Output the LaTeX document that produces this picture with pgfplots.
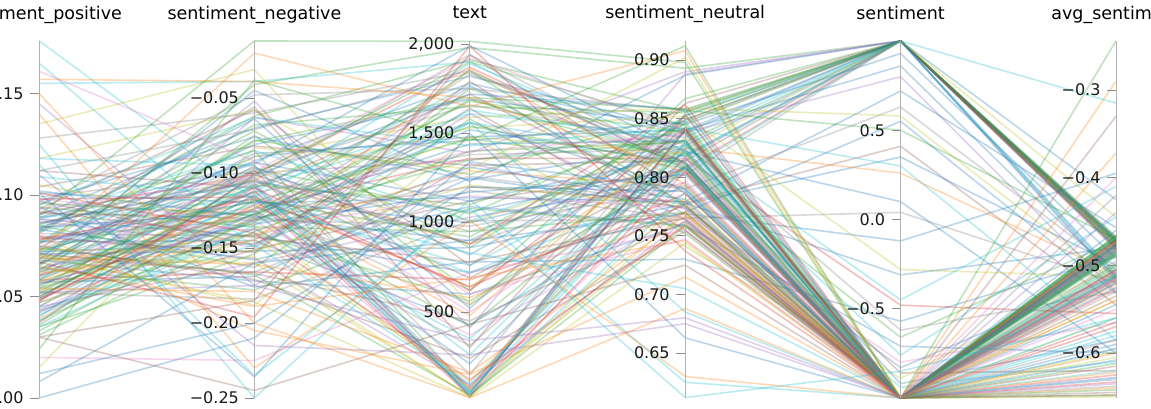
\documentclass[border=0pt]{standalone}
\usepackage{pgfplots}
\usepackage{pgfplotstable}
\pgfplotsset{compat=1.18}
\usepackage{fontspec}
\setmainfont{DejaVu Sans}

\definecolor{c0}{HTML}{1F77B4}
\definecolor{c1}{HTML}{FF7F0E}
\definecolor{c2}{HTML}{2CA02C}
\definecolor{c3}{HTML}{D62728}
\definecolor{c4}{HTML}{9467BD}
\definecolor{c5}{HTML}{8C564B}
\definecolor{c6}{HTML}{E377C2}
\definecolor{c7}{HTML}{7F7F7F}
\definecolor{c8}{HTML}{BCBD22}
\definecolor{c9}{HTML}{17BECF}

% columns: sentiment_positive, sentiment_negative, text, sentiment_neutral, sentiment, avg_sentiment, colour index
\pgfplotstableread{
pos neg txt neu sen avg col
0.082 -0.062 1910 0.856 1 -0.468 2
0.071 -0.089 1480 0.840 1 -0.471 0
0.095 -0.048 1750 0.857 1 -0.474 7
0.058 -0.075 620 0.867 1 -0.477 2
0.104 -0.082 1320 0.814 1 -0.480 5
0.066 -0.041 1980 0.893 1 -0.472 2
0.049 -0.105 880 0.846 1 -0.476 8
0.088 -0.093 1120 0.819 1 -0.470 0
0.077 -0.068 1650 0.855 1 -0.479 2
0.060 -0.052 410 0.888 1 -0.473 4
0.112 -0.071 1840 0.817 1 -0.482 7
0.054 -0.097 1050 0.849 1 -0.469 2
0.093 -0.058 760 0.849 1 -0.475 5
0.072 -0.110 1560 0.818 1 -0.478 9
0.068 -0.045 1230 0.887 1 -0.471 0
0.085 -0.085 55 0.830 1 -0.474 2
0.047 -0.063 1390 0.890 1 -0.481 4
0.099 -0.099 950 0.802 1 -0.467 7
0.063 -0.079 1700 0.858 1 -0.476 2
0.081 -0.056 300 0.863 1 -0.473 5
0.091 -0.101 1870 0.808 1 -0.479 3
0.076 -0.072 860 0.852 1 -0.470 2
0.070 -0.092 1780 0.838 1 -0.510 0
0.097 -0.076 1240 0.827 1 -0.515 0
0.058 -0.108 1610 0.834 1 -0.512 9
0.083 -0.064 520 0.853 1 -0.518 0
0.155 -0.039 1900 0.806 1 -0.315 9
0.066 -0.087 1460 0.847 1 -0.425 0
0.118 -0.058 1000 0.824 1 -0.445 8
0.090 -0.070 1820 0.840 0.86 -0.513 0
0.074 -0.081 1690 0.845 0.93 -0.492 0
0.062 -0.100 1350 0.838 0.80 -0.530 4
0.101 -0.120 1140 0.779 0.72 -0.457 0
0.079 -0.131 980 0.790 0.63 -0.505 7
0.052 -0.089 1590 0.859 0.58 -0.520 8
0.088 -0.142 720 0.770 0.55 -0.532 0
0.065 -0.078 1270 0.857 0.50 -0.470 2
0.112 -0.110 1720 0.778 0.41 -0.545 5
0.071 -0.152 860 0.777 0.35 -0.500 0
0.095 -0.063 1430 0.842 0.30 -0.585 9
0.058 -0.117 640 0.825 0.26 -0.510 1
0.084 -0.094 1990 0.822 0.10 -0.600 0
0.069 -0.166 1180 0.765 0.04 -0.520 7
0.102 -0.129 900 0.769 -0.12 -0.395 0
0.045 -0.103 1530 0.852 -0.28 -0.513 8
0.077 -0.145 430 0.778 -0.31 -0.480 0
0.089 -0.085 1010 0.826 -0.45 -0.410 9
0.060 -0.124 1360 0.816 -0.48 -0.555 3
0.094 -0.176 780 0.730 -0.57 -0.490 0
0.073 -0.099 1660 0.828 -0.62 -0.530 7
0.052 -0.140 560 0.808 -0.66 -0.472 2
0.083 -0.158 1090 0.759 -0.71 -0.600 0
0.066 -0.113 1890 0.821 -0.76 -0.445 9
0.098 -0.132 370 0.770 -0.80 -0.565 6
0.057 -0.169 1250 0.774 -0.83 -0.512 0
0.086 -0.105 690 0.809 -0.86 -0.620 5
0.071 -0.188 1480 0.741 -0.89 -0.500 8
0.049 -0.127 210 0.824 -0.92 -0.585 0
0.109 -0.116 1770 0.775 -0.94 -0.610 9
0.062 -0.128 1540 0.810 -1 -0.466 2
0.045 -0.115 45 0.840 -1 -0.470 0
0.081 -0.142 1260 0.777 -1 -0.474 7
0.037 -0.101 880 0.862 -1 -0.478 3
0.070 -0.160 30 0.770 -1 -0.482 8
0.054 -0.133 1690 0.813 -1 -0.486 2
0.089 -0.118 720 0.793 -1 -0.468 9
0.043 -0.151 1120 0.806 -1 -0.472 5
0.076 -0.107 80 0.817 -1 -0.476 4
0.031 -0.139 1400 0.830 -1 -0.480 2
0.068 -0.172 600 0.760 -1 -0.484 0
0.057 -0.124 1830 0.819 -1 -0.488 7
0.094 -0.136 950 0.770 -1 -0.467 2
0.049 -0.098 25 0.853 -1 -0.471 5
0.072 -0.147 1310 0.781 -1 -0.475 0
0.039 -0.121 480 0.840 -1 -0.479 1
0.085 -0.163 1580 0.752 -1 -0.483 2
0.060 -0.112 260 0.828 -1 -0.487 9
0.052 -0.184 1010 0.764 -1 -0.469 7
0.078 -0.125 60 0.797 -1 -0.473 6
0.035 -0.154 1750 0.811 -1 -0.477 2
0.066 -0.096 820 0.838 -1 -0.481 0
0.091 -0.130 1200 0.779 -1 -0.485 5
0.047 -0.144 110 0.809 -1 -0.490 8
0.073 -0.119 1470 0.808 -1 -0.466 2
0.058 -0.166 680 0.776 -1 -0.472 3
0.083 -0.105 1940 0.812 -1 -0.478 7
0.041 -0.137 350 0.822 -1 -0.484 9
0.064 -0.178 1080 0.758 -1 -0.470 2
0.050 -0.109 40 0.841 -1 -0.476 0
0.097 -0.148 1640 0.755 -1 -0.482 5
0.069 -0.122 540 0.809 -1 -0.488 7
0.038 -0.131 1350 0.831 -1 -0.474 2
0.080 -0.157 90 0.763 -1 -0.480 4
0.055 -0.101 1900 0.844 -1 -0.486 2
0.064 -0.134 1170 0.802 -1 -0.513 0
0.048 -0.112 70 0.840 -1 -0.505 3
0.087 -0.149 1610 0.764 -1 -0.520 4
0.059 -0.120 760 0.821 -1 -0.511 9
0.074 -0.168 35 0.758 -1 -0.498 2
0.042 -0.127 1440 0.831 -1 -0.525 0
0.093 -0.103 500 0.804 -1 -0.516 6
0.067 -0.141 1290 0.792 -1 -0.508 1
0.051 -0.095 150 0.854 -1 -0.530 7
0.079 -0.153 1790 0.768 -1 -0.514 5
0.036 -0.118 920 0.846 -1 -0.502 2
0.070 -0.186 20 0.744 -1 -0.518 8
0.056 -0.132 1520 0.812 -1 -0.509 0
0.098 -0.116 640 0.786 -1 -0.527 3
0.045 -0.160 1030 0.795 -1 -0.515 4
0.082 -0.108 55 0.810 -1 -0.500 9
0.061 -0.145 1860 0.794 -1 -0.522 1
0.053 -0.125 420 0.822 -1 -0.512 2
0.088 -0.138 1150 0.774 -1 -0.535 6
0.040 -0.102 1720 0.858 -1 -0.506 0
0.075 -0.171 240 0.754 -1 -0.517 5
0.063 -0.113 1380 0.824 -1 -0.495 7
0.105 -0.135 70 0.760 -1 -0.540 8
0.057 -0.123 1480 0.820 -1 -0.560 8
0.044 -0.148 95 0.808 -1 -0.575 9
0.086 -0.106 1060 0.808 -1 -0.590 0
0.069 -0.161 580 0.770 -1 -0.600 1
0.033 -0.129 1680 0.838 -1 -0.612 2
0.078 -0.117 30 0.805 -1 -0.625 3
0.052 -0.175 1330 0.773 -1 -0.635 4
0.092 -0.143 780 0.765 -1 -0.645 5
0.060 -0.099 1920 0.841 -1 -0.550 6
0.047 -0.137 310 0.816 -1 -0.585 7
0.073 -0.152 1210 0.775 -1 -0.605 8
0.038 -0.114 45 0.848 -1 -0.620 9
0.084 -0.126 1560 0.790 -1 -0.630 0
0.065 -0.189 690 0.746 -1 -0.640 1
0.050 -0.108 1100 0.842 -1 -0.648 2
0.101 -0.140 120 0.759 -1 -0.565 3
0.056 -0.131 1760 0.813 -1 -0.595 4
0.071 -0.167 450 0.762 -1 -0.615 5
0.043 -0.121 1400 0.836 -1 -0.628 6
0.089 -0.104 880 0.807 -1 -0.638 7
0.062 -0.156 25 0.782 -1 -0.650 8
0.035 -0.135 1630 0.830 -1 -0.580 9
0.077 -0.119 1000 0.804 -1 -0.608 0
0.054 -0.179 160 0.767 -1 -0.622 1
0.096 -0.128 1850 0.776 -1 -0.642 2
0.048 -0.110 620 0.842 -1 -0.633 3
0.000 -0.210 1340 0.790 -1 -0.520 0
0.176 -0.118 830 0.705 -1 -0.490 9
0.165 -0.150 1560 0.685 -1 -0.560 9
0.157 -0.039 1700 0.804 -1 -0.505 1
0.125 -0.250 1130 0.625 -1 -0.595 9
0.090 -0.012 2015 0.898 -1 -0.244 2
0.072 -0.020 1650 0.908 -1 -0.290 1
0.030 -0.245 430 0.725 -1 -0.330 5
0.140 -0.230 1010 0.630 -1 -0.372 1
0.020 -0.225 720 0.755 -1 -0.400 6
0.128 -0.060 1850 0.812 -1 -0.420 7
0.110 -0.215 260 0.675 -1 -0.440 4
0.012 -0.200 1200 0.788 -1 -0.460 0
0.135 -0.031 540 0.834 -1 -0.535 8
0.024 -0.038 1460 0.912 -1 -0.488 2
0.067 -0.196 1990 0.737 -1 -0.570 3
0.118 -0.095 30 0.787 -1 -0.628 9
0.008 -0.160 900 0.832 -1 -0.545 0
0.145 -0.175 340 0.680 -1 -0.505 4
0.080 -0.205 150 0.715 -1 -0.473 1
0.015 -0.083 1300 0.902 -1 -0.598 8
0.030 -0.185 1940 0.786 -1 -0.648 5
0.161 -0.092 600 0.747 -1 -0.515 6
0.101 -0.236 1500 0.663 -1 -0.478 0
0.115 -0.235 1080 0.612 -0.85 -0.560 9
0.150 -0.200 20 0.688 -1 -0.540 1
}\data

\pgfplotsset{
  dimaxis/.style={
    scale only axis, width=20pt, height=357pt, anchor=south west,
    xmin=0, xmax=1, xtick=\empty,
    axis x line=none, axis y line*=left,
    y axis line style={draw=black!30, line width=0.8pt},
    ytick style={draw=black!45, line width=0.8pt},
    tick align=outside, major tick length=9pt, minor tick num=0,
    yticklabel style={font=\fontsize{16}{16}\selectfont, text=black!90, xshift=-3pt},
    title style={at={(0,1)}, anchor=base, yshift=16pt, font=\fontsize{17.5}{17.5}\selectfont},
    clip=false,
  },
}

\begin{document}
\begin{tikzpicture}
\pgfplotstablegetrowsof{\data}
\pgfmathtruncatemacro\N{\pgfplotsretval-1}
\begin{axis}[scale only axis, width=1077pt, height=357pt, at={(39pt,10pt)}, anchor=south west,
  xmin=0, xmax=5, ymin=0, ymax=1, hide axis, clip=false]
\foreach \i in {0,...,\N}{
  \pgfplotstablegetelem{\i}{pos}\of\data \pgfmathsetmacro\ya{\pgfplotsretval/0.17586}
  \pgfplotstablegetelem{\i}{neg}\of\data \pgfmathsetmacro\yb{(\pgfplotsretval+0.25)/0.238}
  \pgfplotstablegetelem{\i}{txt}\of\data \pgfmathsetmacro\yc{(\pgfplotsretval-18)/1999}
  \pgfplotstablegetelem{\i}{neu}\of\data \pgfmathsetmacro\yd{(\pgfplotsretval-0.6116)/0.3046}
  \pgfplotstablegetelem{\i}{sen}\of\data \pgfmathsetmacro\ye{(\pgfplotsretval+1)/2}
  \pgfplotstablegetelem{\i}{avg}\of\data \pgfmathsetmacro\yf{(\pgfplotsretval+0.6513)/0.4072}
  \pgfplotstablegetelem{\i}{col}\of\data \pgfmathtruncatemacro\c{\pgfplotsretval}
  \edef\tmp{\noexpand\addplot[draw=c\c, line width=1.6pt, draw opacity=0.3, line join=round] coordinates {(0,\ya) (1,\yb) (2,\yc) (3,\yd) (4,\ye) (5,\yf)};}
  \tmp
}
\end{axis}

\begin{axis}[dimaxis, at={(39pt,10pt)}, ymin=0, ymax=0.17586,
  ytick={0,0.05,0.10,0.15}, yticklabels={0.00,0.05,0.10,0.15}, title={sentiment\_positive}]
\addplot[draw=none] coordinates {(0,0) (0,0.17586)};
\end{axis}
\begin{axis}[dimaxis, at={(254.4pt,10pt)}, ymin=-0.25, ymax=-0.012,
  ytick={-0.25,-0.20,-0.15,-0.10,-0.05}, yticklabels={−0.25,−0.20,−0.15,−0.10,−0.05}, title={sentiment\_negative}]
\addplot[draw=none] coordinates {(0,-0.25) (0,-0.012)};
\end{axis}
\begin{axis}[dimaxis, at={(469.8pt,10pt)}, ymin=18, ymax=2017,
  ytick={500,1000,1500,2000}, yticklabels={500,{1,000},{1,500},{2,000}}, title={text}]
\addplot[draw=none] coordinates {(0,18) (0,2017)};
\end{axis}
\begin{axis}[dimaxis, at={(685.2pt,10pt)}, ymin=0.6116, ymax=0.9162,
  ytick={0.65,0.70,0.75,0.80,0.85,0.90}, yticklabels={0.65,0.70,0.75,0.80,0.85,0.90}, title={sentiment\_neutral}]
\addplot[draw=none] coordinates {(0,0.6116) (0,0.9162)};
\end{axis}
\begin{axis}[dimaxis, at={(900.6pt,10pt)}, ymin=-1, ymax=1,
  ytick={-0.5,0,0.5}, yticklabels={−0.5,0.0,0.5}, title={sentiment}]
\addplot[draw=none] coordinates {(0,-1) (0,1)};
\end{axis}
\begin{axis}[dimaxis, at={(1116pt,10pt)}, ymin=-0.6513, ymax=-0.2441,
  ytick={-0.6,-0.5,-0.4,-0.3}, yticklabels={−0.6,−0.5,−0.4,−0.3}, title={avg\_sentiment}]
\addplot[draw=none] coordinates {(0,-0.6513) (0,-0.2441)};
\end{axis}
\pgfresetboundingbox
\path[use as bounding box] (0,0) rectangle (1151pt,408pt);
\end{tikzpicture}
\end{document}
